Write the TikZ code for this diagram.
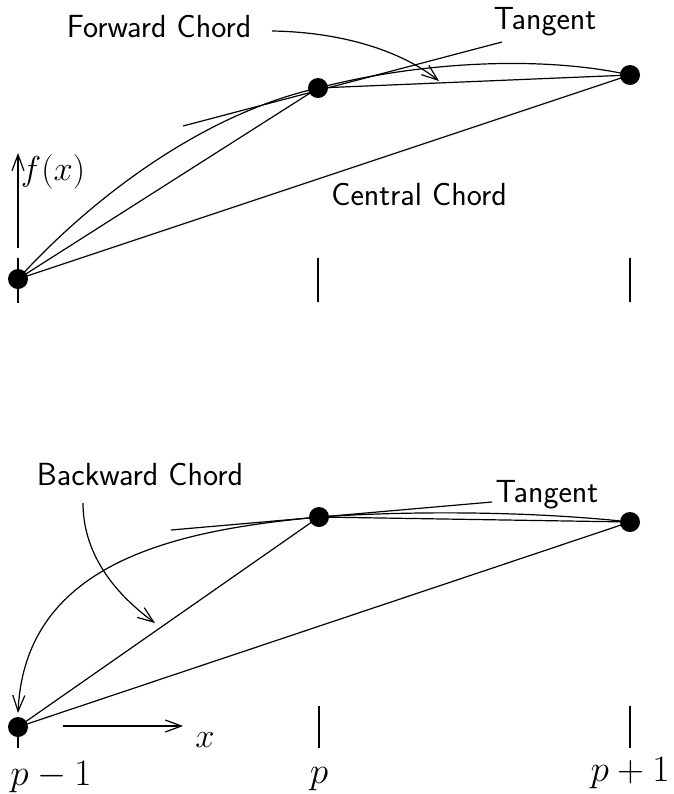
\documentclass[tikz,border=0pt]{standalone}
\usepackage{fontspec}
\usetikzlibrary{arrows.meta}
\begin{document}
\begin{tikzpicture}[x=0.5pt,y=-0.5pt,
  line width=0.6pt,
  tip/.style={-{Straight Barb[length=8pt,width=6pt,line width=0.6pt]}},
  dot/.style={circle,fill=black,inner sep=0pt,minimum size=10pt},
  lbl/.style={font=\fontsize{16}{19}\selectfont\sffamily,inner sep=0pt},
  mlbl/.style={font=\fontsize{17.28}{20}\selectfont,inner sep=0pt}]
\useasboundingbox (0,0) rectangle (674,794);
% ---------- top panel ----------
\coordinate (A) at (18,279);
\coordinate (B) at (318,88);
\coordinate (C) at (630,75);
% ticks
\coordinate (tA1) at (18,258); \coordinate (tA2) at (18,303);
\coordinate (tB1) at (318,258); \coordinate (tB2) at (318,302);
\coordinate (tC1) at (630,258); \coordinate (tC2) at (630,302);
\draw (tA1) -- (tA2);
\draw (tB1) -- (tB2);
\draw (tC1) -- (tC2);
% f(x) axis
\coordinate (fy0) at (18,248); \coordinate (fy1) at (18,153);
\draw[tip] (fy0) -- (fy1);
\node[mlbl] (fx) at (53,172) {$f(x)$};
% tangent
\coordinate (tg1) at (183,126); \coordinate (tg2) at (502,42);
\draw (tg1) -- (tg2);
% curves
\draw (A) .. controls (90,200) and (200,115) .. (B);
\draw (B) .. controls (418,62) and (540,55) .. (C);
% chords
\draw (A) -- (B);
\draw (B) -- (C);
\draw (A) -- (C);
% labels
\node[lbl] (fwd) at (159,27) {Forward Chord};
\coordinate (fwdS) at (272,31);
\coordinate (fwdE) at (439,81);
\draw[tip] (fwdS) .. controls (340,32) and (400,50) .. (fwdE);
\node[lbl] (tan1) at (545,22) {Tangent};
\node[lbl] (cen) at (419,195) {Central Chord};
\node[dot] (dA) at (A) {};
\node[dot] (dB) at (B) {};
\node[dot] (dC) at (C) {};
% ---------- bottom panel ----------
\coordinate (D) at (18,727);
\coordinate (E) at (319,517);
\coordinate (F) at (630,522);
\coordinate (tD1) at (18,727); \coordinate (tD2) at (18,748);
\coordinate (tE1) at (319,706); \coordinate (tE2) at (319,748);
\coordinate (tF1) at (630,706); \coordinate (tF2) at (630,748);
\draw (tD1) -- (tD2);
\draw (tE1) -- (tE2);
\draw (tF1) -- (tF2);
% x axis
\coordinate (ax0) at (63,726); \coordinate (ax1) at (183,726);
\draw[tip] (ax0) -- (ax1);
\node[mlbl] (xl) at (205,740) {$x$};
% tangent
\coordinate (tg3) at (171,530); \coordinate (tg4) at (492,502);
\draw (tg3) -- (tg4);
% curves
\coordinate (Dtop) at (18,713);
\draw[tip] (E) .. controls (180,530) and (25,560) .. (Dtop);
\draw (E) .. controls (420,510) and (540,512) .. (F);
% chords
\draw (D) -- (E);
\draw (E) -- (F);
\draw (D) -- (F);
% labels
\node[lbl] (bwd) at (140,475) {Backward Chord};
\coordinate (bwdS) at (83,503);
\coordinate (bwdE) at (155,623);
\draw[tip] (bwdS) .. controls (83,550) and (110,590) .. (bwdE);
\node[lbl] (tan2) at (547,495) {Tangent};
\node[dot] (dD) at (D) {};
\node[dot] (dE) at (E) {};
\node[dot] (dF) at (F) {};
\node[mlbl] (pm) at (51,777) {\scalebox{1.08}{$p-1$}};
\node[mlbl] (pp) at (319,779) {\scalebox{1.08}{$p$}};
\node[mlbl] (pn) at (630,773) {\scalebox{1.08}{$p+1$}};
\end{tikzpicture}
\end{document}
